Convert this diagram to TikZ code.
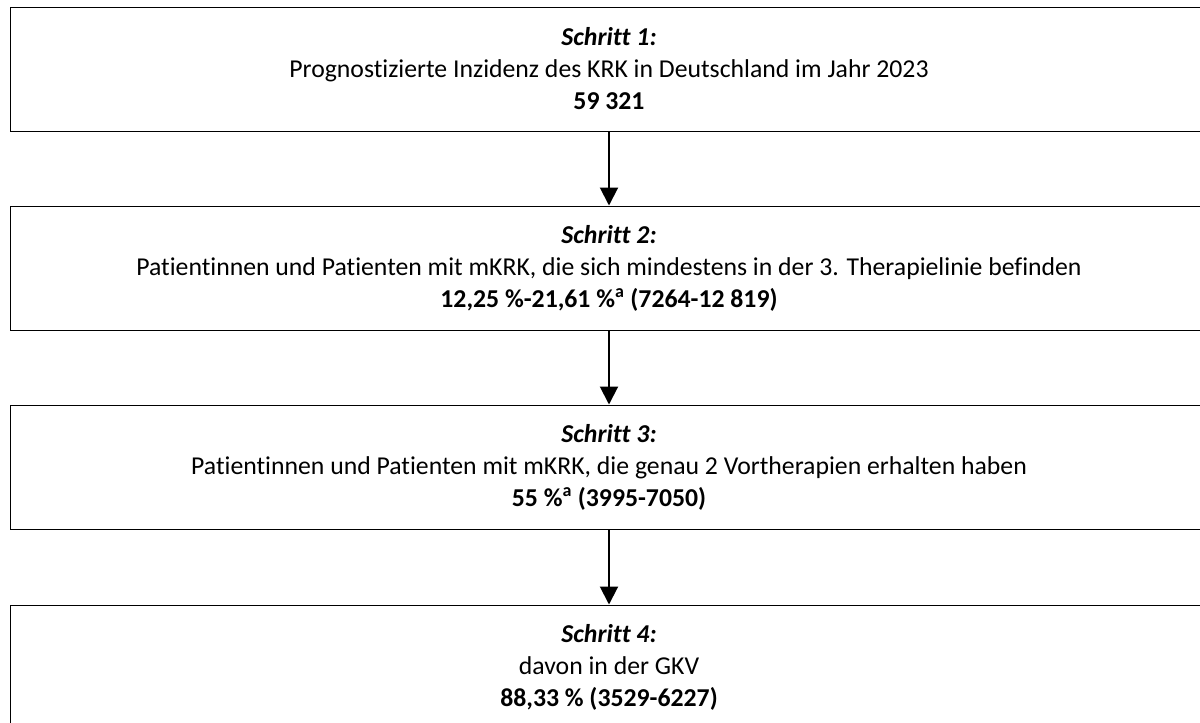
\documentclass[tikz,border=0pt]{standalone}
\usepackage{fontspec}
\setmainfont{Carlito}[Ligatures=NoCommon]
\usetikzlibrary{arrows.meta}
\begin{document}
\begin{tikzpicture}[x=0.75pt,y=-0.75pt,
  stepbox/.style={draw=black,line width=0.75pt,minimum width=898.5pt,minimum height=93pt,
    inner sep=0pt,align=center,font=\fontsize{19.3}{24}\selectfont},
  flow/.style={line width=1.5pt,-{Triangle[width=13.5pt,length=13.5pt]}}]
\useasboundingbox (0,0) rectangle (1200,722);
\node[stepbox] (s1) at (609,69) {\textbf{\textit{Schritt 1:}}\\Prognostizierte Inzidenz des KRK in Deutschland im Jahr 2023\\\textbf{59 321}};
\node[stepbox] (s2) at (609,268) {\textbf{\textit{Schritt 2:}}\\Patientinnen und Patienten mit mKRK, die sich mindestens in der 3. Therapielinie befinden\\\textbf{12,25 \%-21,61 \%\textsuperscript{a} (7264-12 819)}};
\node[stepbox] (s3) at (609,467) {\textbf{\textit{Schritt 3:}}\\Patientinnen und Patienten mit mKRK, die genau 2 Vortherapien erhalten haben\\\textbf{55 \%\textsuperscript{a} (3995-7050)}};
\node[stepbox] (s4) at (609,667) {\textbf{\textit{Schritt 4:}}\\davon in der GKV\\\textbf{88,33 \% (3529-6227)}};
\draw[flow] (s1.south) -- (s2.north);
\draw[flow] (s2.south) -- (s3.north);
\draw[flow] (s3.south) -- (s4.north);
\end{tikzpicture}
\end{document}
